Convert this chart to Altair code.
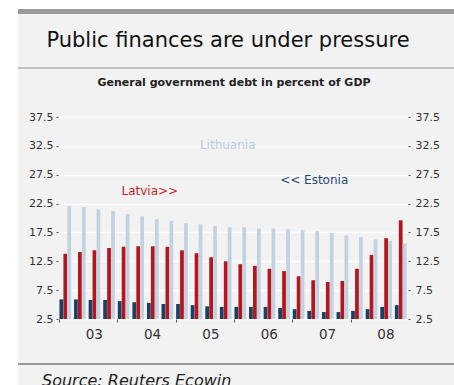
import altair as alt
import pandas as pd

# ---- data -------------------------------------------------------------
quarters = [f"{y}Q{q}" for y in range(2003, 2009) for q in range(1, 5)]
estonia = [5.9, 5.9, 5.8, 5.8, 5.6, 5.4, 5.3, 5.1, 5.1, 4.9, 4.7, 4.6,
           4.6, 4.6, 4.6, 4.4, 4.2, 3.9, 3.7, 3.7, 3.9, 4.2, 4.6, 4.9]
latvia = [13.8, 14.1, 14.4, 14.8, 15.0, 15.1, 15.1, 15.0, 14.4, 13.9, 13.2, 12.5,
          12.0, 11.7, 11.2, 10.8, 9.9, 9.2, 8.9, 9.1, 11.2, 13.6, 16.5, 19.6]
lithuania = [22.1, 21.9, 21.5, 21.2, 20.7, 20.3, 19.8, 19.5, 19.1, 18.9, 18.6, 18.4,
             18.4, 18.2, 18.2, 18.1, 17.9, 17.7, 17.4, 17.0, 16.7, 16.3, 16.0, 15.6]
series = ["Estonia", "Latvia", "Lithuania"]
colors = ["#1b4068", "#b5151d", "#c2d2e0"]
y_ticks = [2.5, 7.5, 12.5, 17.5, 22.5, 27.5, 32.5, 37.5]
year_starts = [q for q in quarters if q.endswith("Q1")]

title_text = "Public finances are under pressure"
subtitle_text = "General government debt in percent of GDP"
source_text = "Source: Reuters Ecowin"

rows = []
for name, vals in zip(series, [estonia, latvia, lithuania]):
    for q, v in zip(quarters, vals):
        rows.append({"quarter": q, "series": name, "value": v})
df = pd.DataFrame(rows)

# ---- layout -----------------------------------------------------------
W, H = 350, 202
PL, PT, PR, PB = 58, 117, 46, 66
FONT = "DejaVu Sans"

yscale = alt.Scale(domain=[2.5, 37.5], nice=False, zero=False)
xscale = alt.Scale(domain=quarters, paddingInner=0.2, paddingOuter=0.1)
color = alt.Color("series:N", scale=alt.Scale(domain=series, range=colors), legend=None)

x_axis = alt.Axis(values=year_starts, bandPosition=0,
                  labelExpr="substring(datum.value, 2, 4)",
                  labelOffset=29, tickSize=3, tickColor="#555",
                  domain=False, grid=False, labelAngle=0,
                  labelPadding=5, labelFontSize=13.5, labelColor="#333",
                  labelFont=FONT, labelOverlap=False, labelBound=False,
                  labelFlush=False)

bars = alt.Chart(df).mark_bar().encode(
    x=alt.X("quarter:N", scale=xscale, sort=quarters, title=None, axis=x_axis),
    xOffset=alt.XOffset("series:N", sort=series, scale=alt.Scale(paddingInner=0.05)),
    y=alt.Y("value:Q", scale=yscale, title=None,
            axis=alt.Axis(orient="left", values=y_ticks, format=".1f",
                          grid=True, gridColor="white", gridWidth=1.5,
                          domain=False, tickSize=2, tickColor="#555",
                          labelPadding=3, labelFontSize=11, labelColor="#333",
                          labelFont=FONT)),
    y2=alt.Y2Datum(2.5),
    color=color,
)

right_axis = alt.Chart(df).mark_point(opacity=0).encode(
    y=alt.Y("value:Q", scale=yscale, title=None,
            axis=alt.Axis(orient="right", values=y_ticks, format=".1f",
                          grid=False, domain=False, tickSize=2, tickColor="#555",
                          labelPadding=5, labelFontSize=11, labelColor="#333",
                          labelFont=FONT)),
)

one = pd.DataFrame({"a": [0]})

def rect(x1, x2, y1, y2, fill):
    return alt.Chart(one).mark_rect(color=fill).encode(
        x=alt.value(x1 - PL), x2=alt.value(x2 - PL),
        y=alt.value(y1 - PT), y2=alt.value(y2 - PT))

def hline(y, x1, x2, col, w):
    return alt.Chart(one).mark_rule(color=col, strokeWidth=w).encode(
        x=alt.value(x1 - PL), x2=alt.value(x2 - PL), y=alt.value(y - PT))

def label(text, x, y, size, weight="normal", style="normal", align="center", col="#111"):
    return alt.Chart(one).mark_text(
        text=text, font=FONT, fontSize=size, fontWeight=weight, fontStyle=style,
        align=align, baseline="alphabetic", color=col).encode(
        x=alt.value(x - PL), y=alt.value(y - PT))

decor = [
    rect(0, 18, 0, 385, "white"),
    rect(0, 454, 0, 9, "white"),
    rect(18, 454, 9, 14, "#9a9a9a"),
    hline(68, 18, 454, "#8c8c8c", 1),
    hline(364, 18, 454, "#9a9a9a", 2),
    label(title_text, 228, 47, 21, col="#111"),
    label(subtitle_text, 234, 86, 11, weight="bold", col="#222"),
    label(source_text, 42, 386, 16, style="italic", align="left", col="#222"),
]

# series annotations anchored in data space (quarter, value)
ann_specs = [
    ("Lithuania", "2005Q4", 32.6, 2, "#bccbdb"),
    ("Latvia>>", "2004Q3", 24.6, -3, "#c41e2a"),
    ("<< Estonia", "2007Q2", 26.6, 1, "#1f4a73"),
]
anns = []
for text, q, v, dx, col in ann_specs:
    d = pd.DataFrame({"quarter": [q], "value": [v], "label": [text]})
    anns.append(alt.Chart(d).mark_text(font=FONT, fontSize=12, color=col, dx=dx,
                                       baseline="middle", align="center").encode(
        x=alt.X("quarter:N", scale=xscale, sort=quarters, title=None, axis=x_axis),
        y=alt.Y("value:Q", scale=yscale, axis=None),
        text="label:N"))

chart = alt.layer(*decor, bars, right_axis, *anns).resolve_axis(
    y="independent"
).properties(
    width=W, height=H,
    autosize=alt.AutoSizeParams(type="none"),
    padding={"left": PL, "top": PT, "right": PR, "bottom": PB},
    background="#f2f2f2",
).configure_view(stroke=None)

chart.save("out.html", embed_options={"renderer": "svg", "actions": False})
